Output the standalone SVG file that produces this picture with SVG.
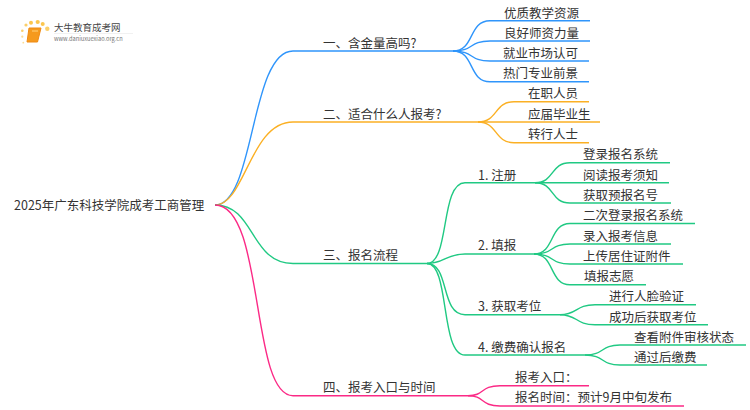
<svg xmlns="http://www.w3.org/2000/svg" width="750" height="410" viewBox="0 0 750 410">
<style>
text{font-family:"Noto Sans CJK SC","Liberation Sans",sans-serif;font-size:12.5px;fill:#333}
path{fill:none;stroke-width:1.4}
.b{stroke:#2f95fb}.o{stroke:#fbb024}.g{stroke:#20c983}.p{stroke:#fb2a86}
</style>
<rect width="750" height="410" fill="#fff"/>
<g id="logo">
<circle cx="26" cy="25" r="1.600" fill="#fbcf6a"/><circle cx="22.300" cy="30.700" r="1.300" fill="#fbcf6a"/><circle cx="31" cy="22.700" r="2" fill="#fbc64e"/><circle cx="37.700" cy="22" r="2.100" fill="#fbc64e"/><circle cx="42.700" cy="24" r="2" fill="#fbc64e"/><circle cx="47.300" cy="28.700" r="2.200" fill="#fbcf6a"/><circle cx="22.300" cy="36.700" r="1.100" fill="#fbdc95"/><circle cx="23.300" cy="42.700" r="0.900" fill="#fbdc95"/>
<path d="M29 28h12l-3.500 14H27z" style="fill:#f59a1e;stroke:#ef8a12;stroke-width:1"/>
<path d="M32 31h6" style="stroke:#ffd27a;stroke-width:1"/>
<path d="M54 33.500H133" style="stroke:#eee;stroke-width:0.800"/>
<text x="54" y="31" style="font-size:9.500px;fill:#444">大牛教育成考网</text>
<text x="54" y="41" style="font-size:5.700px;fill:#777">www.daniuxuexiao.org.cn</text>
</g>
<g id="connectors">
<path class="b" d="M215 205C255 205 250 51 293 51H453"/>
<path class="o" d="M215 205C245 205 250 122 293 122H478"/>
<path class="g" d="M215 205C255 205 250 263.500 293 263.500H427"/>
<path class="p" d="M215 205C265 205 250 395.700 293 395.700H468"/>
<path class="b" d="M453 51C475 51 468 20.700 490 20.700H590"/>
<path class="b" d="M453 51C475 51 468 41 490 41H590"/>
<path class="b" d="M453 51C475 51 468 61 490 61H589"/>
<path class="b" d="M453 51C475 51 468 81.700 490 81.700H589"/>
<path class="o" d="M478 122C498 122 494 101.700 514 101.700H589"/>
<path class="o" d="M478 122H600"/>
<path class="o" d="M478 122C498 122 494 142.700 514 142.700H589"/>
<path class="g" d="M427 263.500C450 263.500 440 182.700 465 182.700H535"/>
<path class="g" d="M427 263.500C445 263.500 445 254 465 254H534"/>
<path class="g" d="M427 263.500C450 263.500 440 314.700 465 314.700H560"/>
<path class="g" d="M427 263.500C450 263.500 440 355 465 355H585"/>
<path class="g" d="M535 182.700C555 182.700 550 162.700 570 162.700H670"/>
<path class="g" d="M535 182.700H669"/>
<path class="g" d="M535 182.700C555 182.700 550 203 570 203H671"/>
<path class="g" d="M534 254C555 254 549 223.500 570 223.500H695"/>
<path class="g" d="M534 254C555 254 549 244 570 244H671"/>
<path class="g" d="M534 254C555 254 549 264 570 264H683"/>
<path class="g" d="M534 254C555 254 549 284.700 570 284.700H646"/>
<path class="g" d="M560 314.700C578 314.700 575 304.700 595 304.700H696"/>
<path class="g" d="M560 314.700C578 314.700 575 324.700 595 324.700H708"/>
<path class="g" d="M585 355C605 355 600 345 620 345H746"/>
<path class="g" d="M585 355C605 355 600 365 620 365H707"/>
<path class="p" d="M468 395.700C485 395.700 480 385.700 500 385.700H589"/>
<path class="p" d="M468 395.700C485 395.700 480 406 500 406H684"/>
</g>
<g id="root"><text x="14" y="210">2025年广东科技学院成考工商管理</text></g>
<g id="n1"><text x="323" y="48">一、含金量高吗?</text></g>
<g id="n2"><text x="323" y="119">二、适合什么人报考?</text></g>
<g id="n3"><text x="323" y="260">三、报名流程</text></g>
<g id="n4"><text x="323" y="392">四、报考入口与时间</text></g>
<g id="l11"><text x="504" y="17.500">优质教学资源</text></g>
<g id="l12"><text x="504" y="37.500">良好师资力量</text></g>
<g id="l13"><text x="503" y="58">就业市场认可</text></g>
<g id="l14"><text x="503" y="78">热门专业前景</text></g>
<g id="l21"><text x="528" y="98">在职人员</text></g>
<g id="l22"><text x="528" y="119">应届毕业生</text></g>
<g id="l23"><text x="528" y="139">转行人士</text></g>
<g id="s1"><text x="478" y="179.500">1. 注册</text></g>
<g id="s2"><text x="478" y="250">2. 填报</text></g>
<g id="s3"><text x="478" y="311">3. 获取考位</text></g>
<g id="s4"><text x="478" y="351.500">4. 缴费确认报名</text></g>
<g id="a1"><text x="583" y="159">登录报名系统</text></g>
<g id="a2"><text x="583" y="180">阅读报考须知</text></g>
<g id="a3"><text x="583" y="200">获取预报名号</text></g>
<g id="b1"><text x="583" y="220">二次登录报名系统</text></g>
<g id="b2"><text x="583" y="241">录入报考信息</text></g>
<g id="b3"><text x="583" y="261">上传居住证附件</text></g>
<g id="b4"><text x="584" y="281">填报志愿</text></g>
<g id="c1"><text x="609" y="301">进行人脸验证</text></g>
<g id="c2"><text x="609" y="322">成功后获取考位</text></g>
<g id="d1"><text x="634" y="342">查看附件审核状态</text></g>
<g id="d2"><text x="634" y="362">通过后缴费</text></g>
<g id="e1"><text x="515" y="382">报考入口：</text></g>
<g id="e2"><text x="515" y="402">报名时间：预计9月中旬发布</text></g>
</svg>
